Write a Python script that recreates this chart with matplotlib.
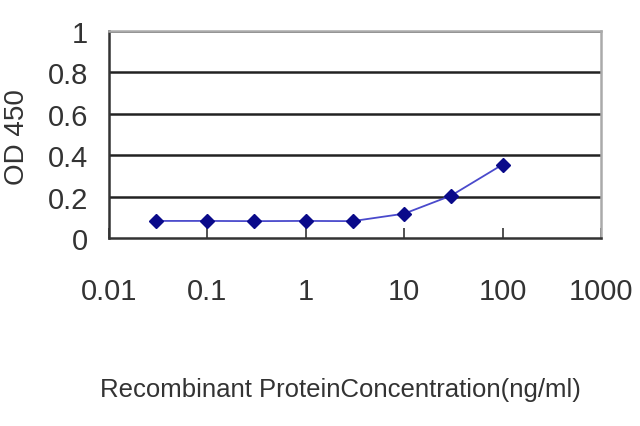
import numpy as np
import matplotlib.pyplot as plt
from matplotlib.ticker import FixedLocator, FixedFormatter, NullLocator

plt.rcParams['font.family'] = ['Liberation Sans', 'DejaVu Sans']

# concentrations (ng/ml) and OD 450 readings
conc = [0.03, 0.1, 0.3, 1, 3, 10, 30, 100]
od450 = [0.083, 0.083, 0.082, 0.083, 0.082, 0.118, 0.205, 0.355]
xticks = [0.01, 0.1, 1, 10, 100, 1000]
xlabels = ['0.01', '0.1', '1', '10', '100', '1000']
yticks = [0, 0.2, 0.4, 0.6, 0.8, 1]
ylabels = ['0', '0.2', '0.4', '0.6', '0.8', '1']

fig = plt.figure(figsize=(6.4, 4.27), dpi=100)
ax = fig.add_axes([0.170, 0.440, 0.769, 0.485])

for v in yticks[1:]:
    ax.axhline(v, color='#222222', lw=1.8, zorder=1)

ax.plot(conc, od450, color='#4a4acc', lw=1.3, zorder=2)
ax.plot(conc, od450, ls='none', marker='D', ms=7.5,
        color='#0a0a8a', zorder=3)

ax.set_xscale('log')
ax.set_xlim(0.01, 1000)
ax.set_ylim(0, 1)
ax.xaxis.set_major_locator(FixedLocator(xticks))
ax.xaxis.set_major_formatter(FixedFormatter(xlabels))
ax.xaxis.set_minor_locator(NullLocator())
ax.set_yticks(yticks)
ax.set_yticklabels(ylabels)

ax.tick_params(axis='x', direction='in', length=7, width=1.2,
               color='#333333', pad=28, labelsize=21, labelcolor='#333333')
ax.tick_params(axis='y', length=0, pad=15, labelsize=21,
               labelcolor='#333333')

for s in ['left', 'bottom']:
    ax.spines[s].set_color('#333333')
    ax.spines[s].set_linewidth(1.8)
for s in ['top', 'right']:
    ax.spines[s].set_color('#aaaaaa')
    ax.spines[s].set_linewidth(1.8)

fig.text(0.532, 0.087, 'Recombinant ProteinConcentration(ng/ml)',
         ha='center', va='center', fontsize=18.5, color='#333333')
fig.text(0.026, 0.68, 'OD 450', rotation=90, ha='center', va='center',
         fontsize=20, color='#333333')

fig.savefig('out.png', dpi=100)
